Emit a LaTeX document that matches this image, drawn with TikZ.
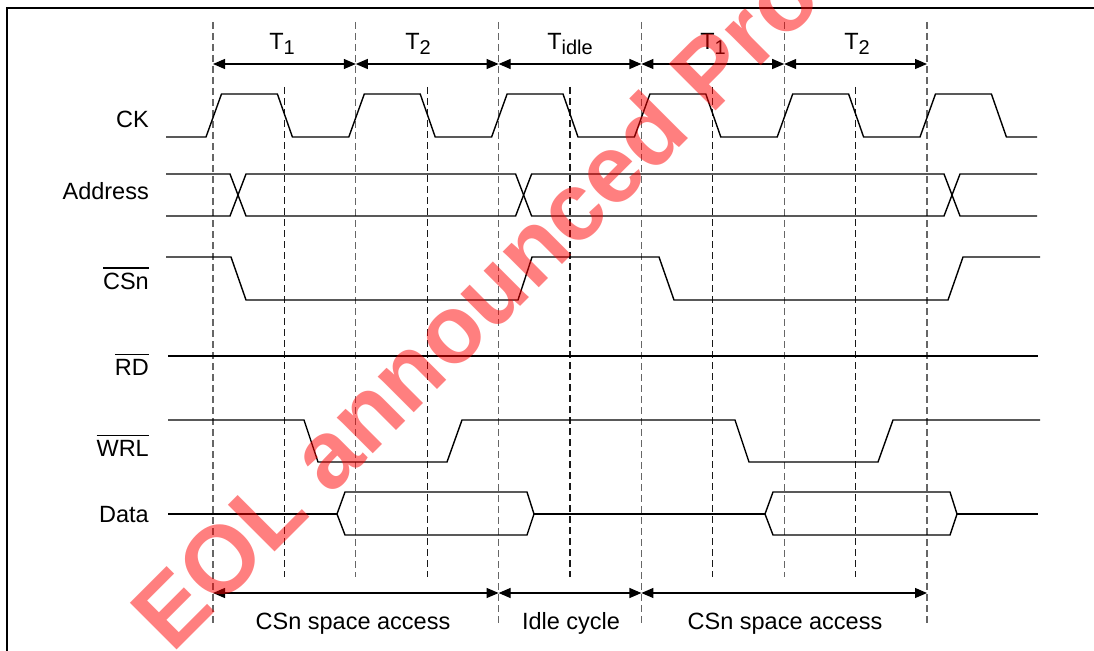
\documentclass[tikz,border=0pt]{standalone}
\usepackage{fontspec}
\setmainfont{Liberation Sans}
\usetikzlibrary{arrows.meta}
\newcommand\sigbar[1]{\leavevmode\vbox{\hrule height 1.1pt\kern 4pt\hbox{#1}}}
\newcommand\Tsub[2]{#1\raisebox{-5pt}{\fontsize{20}{20}\selectfont #2}}
\begin{document}
\begin{tikzpicture}[x=1pt,y=-1pt,
  wave/.style={line width=1.4pt, line join=miter},
  bnd/.style={dash pattern=on 7pt off 4pt, line width=1.3pt, black!60},
  midl/.style={dash pattern=on 7pt off 4pt, line width=1.2pt, black!90},
  dimarrow/.style={line width=1.2pt, {Triangle[length=12pt,width=10pt]}-{Triangle[length=12pt,width=10pt]}},
  lbl/.style={font=\fontsize{23.5}{28}\selectfont, inner sep=0pt},
  sig/.style={lbl, anchor=base east}]
\useasboundingbox (0,0) rectangle (1094,650);
% frame
\draw[line width=2pt] (7,651) -- (7,8) -- (1095,8);
% boundary coordinates
\foreach \n/\x in {0/213,1/355.8,2/498.6,3/641.4,4/784.2,5/927}{
  \coordinate (tt\n) at (\x,64);
  \coordinate (bb\n) at (\x,593);
}
% dashed lines
\foreach \x in {213,498.6,641.4,927} \draw[bnd] (\x,22) -- (\x,625);
\foreach \x in {355.8,784.2} \draw[bnd] (\x,22) -- (\x,577);
\foreach \x in {284.4,427.2,570,712.8,855.6} \draw[midl] (\x,87) -- (\x,577);
% top dimension arrows
\draw[dimarrow] (tt0) -- (tt1);
\draw[dimarrow] (tt1) -- (tt2);
\draw[dimarrow] (tt2) -- (tt3);
\draw[dimarrow] (tt3) -- (tt4);
\draw[dimarrow] (tt4) -- (tt5);
\node[lbl, anchor=base] (lt1) at (282,50) {\Tsub{T}{1}};
\node[lbl, anchor=base] (lt2) at (418,50) {\Tsub{T}{2}};
\node[lbl, anchor=base] (lt3) at (570,50) {\Tsub{T}{idle}};
\node[lbl, anchor=base] (lt4) at (713,50) {\Tsub{T}{1}};
\node[lbl, anchor=base] (lt5) at (857,50) {\Tsub{T}{2}};
% bottom dimension arrows
\draw[dimarrow] (bb0) -- (bb2);
\draw[dimarrow] (bb2) -- (bb3);
\draw[dimarrow] (bb3) -- (bb5);
\node[lbl, anchor=base] (lb1) at (353,629) {CSn space access};
\node[lbl, anchor=base] (lb2) at (571,629) {Idle cycle};
\node[lbl, anchor=base] (lb3) at (785,629) {CSn space access};
% signal labels
\node[sig] (lck) at (149,128) {CK};
\node[sig] (laddr) at (149,199) {Address};
\node[sig] (lcs) at (149,289) {\sigbar{CSn}};
\node[sig] (lrd) at (149,375) {\sigbar{RD}};
\node[sig] (lwr) at (149,456) {\sigbar{WRL}};
\node[sig] (ldata) at (149,522) {Data};
% CK
\draw[wave] (166,137)
  \foreach \b in {213,355.8,498.6,641.4,784.2,927} { -- (\b-7,137) -- (\b+8.5,94) -- (\b+64.4,94) -- (\b+79.4,137) }
  -- (1037,137);
% Address
\draw[wave] (166,174) -- (230,174) -- (246,216) -- (515.6,216) -- (531.6,174) -- (944,174) -- (960,216) -- (1037,216);
\draw[wave] (166,216) -- (230,216) -- (246,174) -- (515.6,174) -- (531.6,216) -- (944,216) -- (960,174) -- (1037,174);
% CSn
\draw[wave] (166,257) -- (231,257) -- (246,300) -- (518,300) -- (532,257) -- (659,257) -- (674,300) -- (948,300) -- (963,257) -- (1040,257);
% RD
\draw[wave] (168,356) -- (1038,356);
% WRL
\draw[wave] (168,420) -- (304,420) -- (318,462) -- (447,462) -- (462,420) -- (735,420) -- (749,462) -- (878,462) -- (893,420) -- (1040,420);
% Data
\draw[wave] (168,514) -- (337,514);
\draw[wave] (337,514) -- (345,492) -- (527,492) -- (534,514) -- (527,535) -- (345,535) -- cycle;
\draw[wave] (534,514) -- (765,514);
\draw[wave] (765,514) -- (773,492) -- (950,492) -- (957,514) -- (950,535) -- (773,535) -- cycle;
\draw[wave] (957,514) -- (1038,514);
% watermark
\begin{scope}
\clip (0,0) rectangle (1094,650);
\node[anchor=base west, rotate=45, text=red, opacity=0.5, inner sep=0pt,
  font=\fontsize{96}{100}\selectfont\bfseries] (wm) at (172,655) {EOL announced Product};
\end{scope}
\end{tikzpicture}
\end{document}
